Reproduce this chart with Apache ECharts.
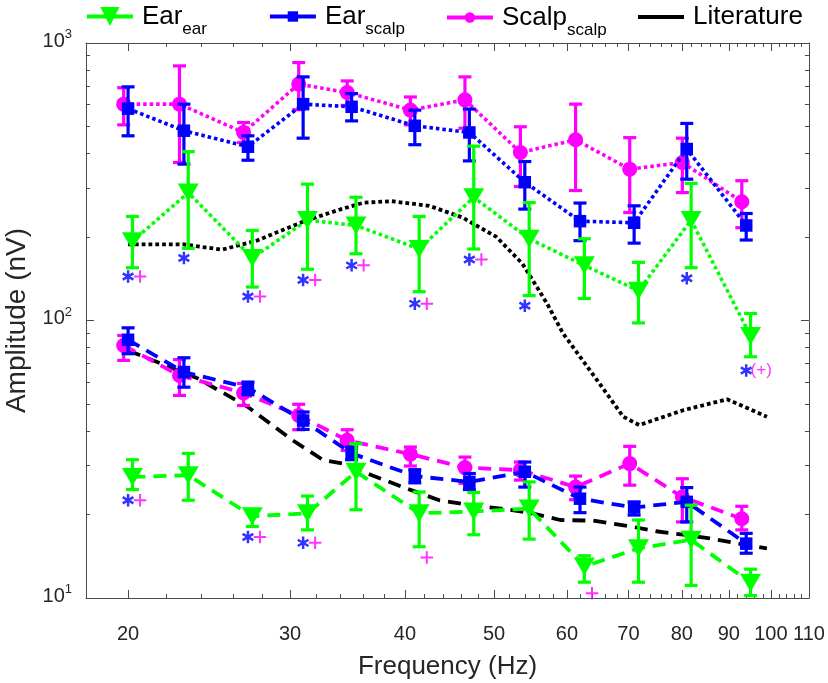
<!DOCTYPE html>
<html lang="en">

<head>
  <meta charset="UTF-8">
  <script src="https://cdn.jsdelivr.net/npm/echarts@6.0.0/dist/echarts.min.js"></script>
  <style>
    body,
    html {
      margin: 0;
      padding: 0;
      width: 100%;
      height: 100%;
      background: #fff;
      overflow: hidden;
    }

    #main {
      width: 828px;
      height: 683px;
    }
  </style>
</head>

<body>
  <div id="main"></div>
  <script type="text/javascript">
    // stimulation frequencies (Hz)
    const freqs = [20, 23, 27, 31, 35, 41, 47, 54, 62, 71, 81, 94];

    // upper group (dotted lines): mean, lower and upper end of the error bar
    const earEarDot = [193, 289, 168, 230, 220, 181, 278, 197, 158, 128, 230, 88];
    const earEarDotMin = [155, 182, 132, 153, 174, 127, 181, 123, 120, 98, 155, 74];
    const earEarDotMax = [237, 406, 211, 310, 278, 237, 425, 266, 197, 162, 312, 106];

    const earScalpDot = [580, 483, 423, 602, 589, 503, 476, 315, 228, 225, 415, 220];
    const earScalpDotMin = [463, 366, 378, 454, 524, 430, 376, 252, 194, 190, 323, 195];
    const earScalpDotMax = [695, 602, 463, 755, 657, 573, 578, 374, 265, 259, 513, 243];

    const scalpDot = [602, 602, 476, 711, 663, 573, 624, 403, 448, 351, 371, 268];
    const scalpDotMin = [507, 371, 438, 575, 596, 507, 493, 304, 294, 245, 289, 216];
    const scalpDotMax = [690, 827, 517, 850, 730, 639, 755, 499, 602, 456, 454, 319];

    // lower group (dashed lines)
    const earEarDash = [27.3, 27.7, 19.7, 20.2, 28.5, 20.2, 20.5, 21.0, 13.0, 15.1, 16.2, 11.35];
    const earEarDashMin = [24.6, 22.5, 18.1, 17.6, 20.8, 15.3, 16.9, 16.3, 11.4, 11.4, 11.1, 10.2];
    const earEarDashMax = [31.5, 33.2, 20.6, 23.3, 36.0, 24.1, 24.0, 26.2, 14.2, 19.1, 21.6, 12.7];

    const earScalpDash = [85.2, 65.2, 57.3, 43.6, 33.2, 27.5, 26.2, 28.5, 22.8, 21.2, 22.2, 15.7];
    const earScalpDashMin = [75.9, 57.5, 54, 40.5, 31.5, 26.0, 24.6, 25.1, 20.3, 19.9, 18.8, 14.5];
    const earScalpDashMax = [94.1, 73.4, 60, 46.8, 35, 29, 28.1, 30.9, 25.1, 22.2, 25, 17.1];

    const scalpDash = [81.3, 63.4, 54.8, 45.5, 37.0, 33.0, 29.5, 28.9, 25.1, 30.5, 23.1, 19.3];
    const scalpDashMin = [71.8, 53.7, 49.4, 40.4, 34, 29.9, 25.9, 26.6, 22.6, 25.5, 18.8, 17.6];
    const scalpDashMax = [88.3, 72.3, 59.3, 49.9, 40.4, 35.0, 32.2, 30.9, 27.5, 35.2, 26.9, 21.4];

    // literature curves
    const litDotFreq = [20, 23, 25.3, 27.6, 31.2, 34.1, 36.1, 38.7, 42.5, 46.2, 50.3, 53.7, 57.1, 59.4, 64.7, 69.1, 71.9, 80.3, 89.6, 99];
    const litDot = [188, 188, 180, 194, 229, 252, 266, 269, 259, 235, 200, 160, 115, 90, 61, 45, 42, 47.5, 52, 45];
    const litDashFreq = [20, 23.8, 27, 30.2, 32.6, 34.3, 37, 40.2, 43.6, 47.1, 50.9, 55, 59, 64.1, 69.8, 75, 81.6, 85.8, 94.1, 99];
    const litDash = [78, 61.9, 48.8, 37, 31.4, 30.5, 27.5, 24.8, 22.5, 21.6, 21.0, 20.2, 19.1, 19.0, 18.2, 17.4, 16.8, 16.4, 15.5, 15.1];

    // significance marks (* vs Ear_scalp, + vs Scalp_scalp), null = none
    const starDot = [144, 168, 122, 140, 158, 115, 166, 113, null, null, 142, 66];
    const plusDot = [144, null, 122, 140, 158, 115, 166, null, null, null, null, 66];
    const plusDotBracketed = [94];
    const starDash = [22.5, null, 16.6, 15.8, null, null, null, null, null, null, null, null];
    const plusDash = [22.5, null, 16.6, 15.8, null, 14.0, null, null, 10.4, null, null, null];

    // axis ticks
    const xMajor = [20, 30, 40, 50, 60, 70, 80, 90, 100, 110];
    const xMinor = [];
    for (let f = 22; f < 110; f += 2) if (f % 10) xMinor.push(f);
    const yMajor = [10, 100, 1000];
    const yMinor = [20, 30, 40, 50, 60, 70, 80, 90, 200, 300, 400, 500, 600, 700, 800, 900];

    const FONT = "'Liberation Sans', Arial, Helvetica, sans-serif";
    const INK = '#262626';
    const FRAME = '#4a4a4a';
    const GREEN = '#00ff00', BLUE = '#0000ff', MAGENTA = '#ff00ff', BLACK = '#000000';
    const DOT = [3.5, 3], DASH = [13, 8];
    // small horizontal jitter so the three measurements do not overlap
    const shift = { earEar: 1.011, earScalp: 1, scalp: 0.989 };

    const TRI_DOWN = 'path://M0,0L20,0L10,17Z';
    const STAR = 'path://M-0.2,-1L0.2,-1L0.2,1L-0.2,1ZM0.766,-0.673L0.966,-0.327L-0.766,0.673L-0.966,0.327ZM0.966,0.327L0.766,0.673L-0.966,-0.327L-0.766,-0.673Z';
    const PLUS = 'path://M-1,-0.16L1,-0.16L1,0.16L-1,0.16ZM-0.16,-1L0.16,-1L0.16,1L-0.16,1Z';

    function pts(xs, ys, k) {
      const out = [];
      xs.forEach(function (f, i) {
        if (ys[i] != null) out.push([f * k, ys[i]]);
      });
      return out;
    }

    function errorBars(name, lo, hi, k, color, z) {
      return {
        name: name,
        type: 'custom',
        coordinateSystem: 'cartesian2d',
        xAxisIndex: 0,
        yAxisIndex: 0,
        z: z,
        silent: true,
        itemStyle: { color: color },
        encode: { x: 0, y: [1, 2] },
        data: freqs.map(function (f, i) { return [f * k, lo[i], hi[i]]; }),
        renderItem: function (params, api) {
          const x = api.value(0);
          const a = api.coord([x, api.value(1)]);
          const b = api.coord([x, api.value(2)]);
          const w = 6.5;
          const style = { stroke: color, lineWidth: 3.2 };
          return {
            type: 'group',
            children: [
              { type: 'line', shape: { x1: a[0], y1: a[1], x2: b[0], y2: b[1] }, style: style },
              { type: 'line', shape: { x1: a[0] - w, y1: a[1], x2: a[0] + w, y2: a[1] }, style: style },
              { type: 'line', shape: { x1: b[0] - w, y1: b[1], x2: b[0] + w, y2: b[1] }, style: style }
            ]
          };
        }
      };
    }

    function trace(name, xs, ys, k, color, dash, width, symbol, size, z) {
      return {
        name: name,
        type: 'line',
        xAxisIndex: 0,
        yAxisIndex: 0,
        z: z,
        silent: true,
        data: pts(xs, ys, k),
        symbol: symbol,
        symbolSize: size,
        showSymbol: symbol !== 'none',
        showAllSymbol: true,
        lineStyle: { color: color, width: width, type: dash, cap: 'butt' },
        itemStyle: { color: color, borderWidth: 0 },
        emphasis: { disabled: true }
      };
    }

    function marks(name, values, symbol, size, color, dx, bracketed) {
      const data = [];
      freqs.forEach(function (f, i) {
        if (values[i] == null) return;
        if (bracketed && bracketed.indexOf(f) >= 0) {
          data.push({
            value: [f, values[i]],
            itemStyle: { color: 'rgba(0,0,0,0)' },
            label: {
              show: true, position: 'inside', formatter: '(+)', offset: [3, 0],
              color: color, fontSize: 17, fontFamily: FONT
            }
          });
        } else {
          data.push([f, values[i]]);
        }
      });
      return {
        name: name,
        type: 'scatter',
        xAxisIndex: 0,
        yAxisIndex: 0,
        z: 6,
        silent: true,
        clip: false,
        symbol: symbol,
        symbolSize: size,
        symbolOffset: [dx, 0],
        itemStyle: { color: color },
        data: data
      };
    }

    function legendFor(name, left, top, itemHeight, icon) {
      return {
        data: [icon ? { name: name, icon: icon } : name],
        left: left,
        top: top,
        padding: 0,
        itemWidth: 46,
        itemHeight: itemHeight,
        selectedMode: false,
        lineStyle: { type: 'solid', width: 3.8 },
        itemStyle: { borderWidth: 0 },
        formatter: function (n) {
          const parts = n.split('_');
          return parts[1] ? '{m|' + parts[0] + '}{s|' + parts[1] + '}' : '{m|' + parts[0] + '}';
        },
        textStyle: {
          fontFamily: FONT,
          color: '#000',
          padding: [0, 0, 0, 4],
          rich: {
            m: { fontFamily: FONT, fontSize: 26, lineHeight: 30, color: '#000' },
            s: { fontFamily: FONT, fontSize: 17, lineHeight: 17, padding: [26, 0, 0, 0], color: '#000' }
          }
        }
      };
    }

    function logX(extra) {
      return Object.assign({
        type: 'log', logBase: 10, min: 18, max: 110,
        axisLine: { show: false },
        splitLine: { show: false },
        minorTick: { show: false },
        axisLabel: { show: false },
        axisTick: { show: false }
      }, extra);
    }

    function logY(extra) {
      return Object.assign({
        type: 'log', logBase: 10, min: 10, max: 1000,
        axisLine: { show: false },
        splitLine: { show: false },
        minorTick: { show: false },
        axisLabel: { show: false },
        axisTick: { show: false }
      }, extra);
    }

    const frameLine = { show: true, onZero: false, lineStyle: { color: FRAME, width: 1 } };
    const majorTick = function (vals) {
      return { show: true, inside: true, length: 8, customValues: vals, lineStyle: { color: FRAME, width: 1 } };
    };
    const minorTickOf = function (vals) {
      return { show: true, inside: true, length: 4, customValues: vals, lineStyle: { color: FRAME, width: 1 } };
    };

    const gridBox = { left: 86, right: 19, top: 43, bottom: 85, outerBoundsMode: 'none', containLabel: false };

    var myChart = echarts.init(document.getElementById('main'));

    const option = {
      backgroundColor: '#fff',
      animation: false,
      grid: [Object.assign({}, gridBox), Object.assign({}, gridBox)],
      legend: [
        legendFor('Ear_ear', 85, -5, 24),
        legendFor('Ear_scalp', 268, -5, 13),
        legendFor('Scalp_scalp', 445, -4, 13),
        legendFor('Literature', 638, 4, 3.8, 'rect')
      ],
      xAxis: [
        logX({
          gridIndex: 0, position: 'bottom',
          axisLine: frameLine,
          axisTick: majorTick(xMajor),
          axisLabel: { show: true, customValues: xMajor, margin: 26, fontSize: 20, color: INK, fontFamily: FONT },
          name: 'Frequency (Hz)',
          nameLocation: 'middle',
          nameGap: 56,
          nameTextStyle: { fontSize: 26, color: INK, fontFamily: FONT }
        }),
        logX({ gridIndex: 0, position: 'top', axisLine: frameLine, axisTick: majorTick(xMajor) }),
        logX({ gridIndex: 1, position: 'bottom', axisTick: minorTickOf(xMinor) }),
        logX({ gridIndex: 1, position: 'top', axisTick: minorTickOf(xMinor) })
      ],
      yAxis: [
        logY({
          gridIndex: 0, position: 'left',
          axisLine: frameLine,
          axisTick: majorTick(yMajor),
          axisLabel: {
            show: true, customValues: yMajor, margin: 14,
            formatter: function (v) { return '{b|10}{e|' + Math.round(Math.log10(v)) + '}'; },
            rich: {
              b: { fontSize: 20, lineHeight: 20, padding: [3, 0, 7, 0], color: INK, fontFamily: FONT },
              e: { fontSize: 13, lineHeight: 13, padding: [0, 0, 17, 0], color: INK, fontFamily: FONT }
            }
          },
          name: 'Amplitude (nV)',
          nameLocation: 'middle',
          nameGap: 41,
          nameTextStyle: { fontSize: 28, color: INK, fontFamily: FONT }
        }),
        logY({ gridIndex: 0, position: 'right', axisLine: frameLine, axisTick: majorTick(yMajor) }),
        logY({ gridIndex: 1, position: 'left', axisTick: minorTickOf(yMinor) }),
        logY({ gridIndex: 1, position: 'right', axisTick: minorTickOf(yMinor) })
      ],
      series: [
        trace('Literature', litDotFreq, litDot, 1, BLACK, [3.8, 3], 3.8, 'none', 0, 1),
        trace('Literature', litDashFreq, litDash, 1, BLACK, DASH, 3.8, 'none', 0, 1),

        errorBars('sd-scalp-dot', scalpDotMin, scalpDotMax, shift.scalp, MAGENTA, 2),
        trace('Scalp_scalp', freqs, scalpDot, shift.scalp, MAGENTA, DOT, 3.6, 'circle', 15, 2),
        errorBars('sd-scalp-dash', scalpDashMin, scalpDashMax, shift.scalp, MAGENTA, 2),
        trace('Scalp_scalp', freqs, scalpDash, shift.scalp, MAGENTA, DASH, 3.8, 'circle', 15, 2),

        errorBars('sd-earscalp-dot', earScalpDotMin, earScalpDotMax, shift.earScalp, BLUE, 3),
        trace('Ear_scalp', freqs, earScalpDot, shift.earScalp, BLUE, DOT, 3.6, 'rect', 12.5, 3),
        errorBars('sd-earscalp-dash', earScalpDashMin, earScalpDashMax, shift.earScalp, BLUE, 3),
        trace('Ear_scalp', freqs, earScalpDash, shift.earScalp, BLUE, DASH, 3.8, 'rect', 12.5, 3),

        errorBars('sd-earear-dot', earEarDotMin, earEarDotMax, shift.earEar, GREEN, 4),
        trace('Ear_ear', freqs, earEarDot, shift.earEar, GREEN, DOT, 3.6, TRI_DOWN, [21, 18], 4),
        errorBars('sd-earear-dash', earEarDashMin, earEarDashMax, shift.earEar, GREEN, 4),
        trace('Ear_ear', freqs, earEarDash, shift.earEar, GREEN, DASH, 3.8, TRI_DOWN, [21, 18], 4),

        marks('star-dot', starDot, STAR, [12, 12.5], BLUE, 0),
        marks('plus-dot', plusDot, PLUS, 12.5, MAGENTA, 12, plusDotBracketed),
        marks('star-dash', starDash, STAR, [12, 12.5], BLUE, 0),
        marks('plus-dash', plusDash, PLUS, 12.5, MAGENTA, 12)
      ]
    };

    myChart.setOption(option);

    window.addEventListener('resize', function () {
      myChart.resize();
    });
  </script>
</body>

</html>
